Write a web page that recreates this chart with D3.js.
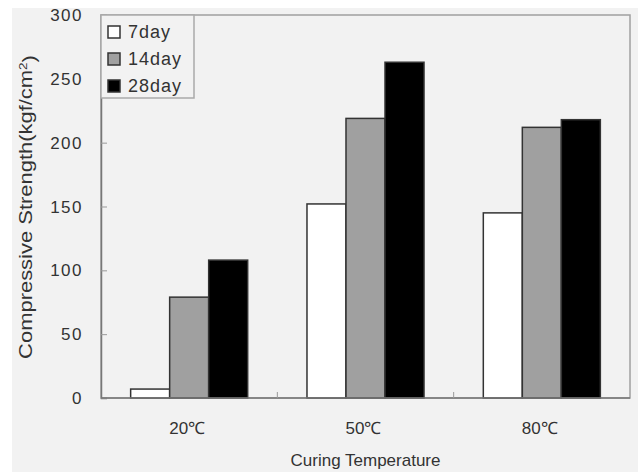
<!DOCTYPE html>
<html>
<head>
<meta charset="utf-8">
<script src="https://cdn.jsdelivr.net/npm/d3@7"></script>
<style>
  body { margin: 0; background: #fff; }
  text { font-family: "Liberation Sans", Arial, sans-serif; fill: #333; }
</style>
</head>
<body>
<div id="chart"></div>
<script>
var temps = ["20℃", "50℃", "80℃"];
var series = ["7day", "14day", "28day"];
var day7 = [7, 152, 145];
var day14 = [79, 219, 212];
var day28 = [108, 263, 218];
var yTicks = [0, 50, 100, 150, 200, 250, 300];

var fills = { "7day": "#ffffff", "14day": "#a0a0a0", "28day": "#000000" };
var values = { "7day": day7, "14day": day14, "28day": day28 };

var W = 638, H = 472;
var margin = { top: 15, right: 8, bottom: 74, left: 101 };

var svg = d3.select("#chart")
    .append("svg")
    .attr("width", W)
    .attr("height", H);

// gray page background
svg.append("rect")
    .attr("x", 12).attr("y", 8)
    .attr("width", W - 12).attr("height", H - 8)
    .attr("fill", "#f2f2f2");

var x0 = d3.scaleBand()
    .domain(temps)
    .range([margin.left, W - margin.right])
    .padding(0);

var x1 = d3.scaleBand()
    .domain(series)
    .range([0, x0.bandwidth()])
    .paddingInner(0)
    .paddingOuter(0.76);

var y = d3.scaleLinear()
    .domain([0, 300])
    .range([H - margin.bottom, margin.top]);

// frame
svg.append("rect")
    .attr("x", margin.left).attr("y", margin.top)
    .attr("width", W - margin.right - margin.left)
    .attr("height", y(0) - margin.top)
    .attr("fill", "none")
    .attr("stroke", "#a0a0a0")
    .attr("stroke-width", 1.5);

// bars
var rows = [];
temps.forEach(function (t, i) {
    series.forEach(function (s) {
        rows.push({ temp: t, s: s, v: values[s][i] });
    });
});

svg.selectAll(".bar")
    .data(rows)
    .enter()
    .append("rect")
    .attr("class", "bar")
    .attr("x", function (d) { return x0(d.temp) + x1(d.s); })
    .attr("y", function (d) { return y(d.v); })
    .attr("width", x1.bandwidth())
    .attr("height", function (d) { return y(0) - y(d.v); })
    .attr("fill", function (d) { return fills[d.s]; })
    .attr("stroke", "#333")
    .attr("stroke-width", 1.5);

// y axis (ticks inward)
var yAxis = svg.append("g")
    .attr("transform", "translate(" + margin.left + ",0)")
    .call(d3.axisRight(y).tickValues(yTicks).tickSize(6).tickFormat(""));
yAxis.select(".domain").attr("stroke", "#777").attr("stroke-width", 1.5);
yAxis.selectAll(".tick line").attr("stroke", "#999");

svg.selectAll(".ylab")
    .data(yTicks)
    .enter()
    .append("text")
    .attr("class", "ylab")
    .attr("x", 83)
    .attr("y", function (d) { return y(d); })
    .attr("dy", "0.36em")
    .attr("text-anchor", "end")
    .style("font-size", "17px")
    .style("letter-spacing", "1.5px")
    .text(function (d) { return d; });

// x axis, ticks between groups
var xAxis = svg.append("g")
    .attr("transform", "translate(0," + y(0) + ")");
xAxis.append("line")
    .attr("x1", margin.left).attr("x2", W - margin.right)
    .attr("stroke", "#777").attr("stroke-width", 1.5);
xAxis.selectAll(".sep")
    .data(temps.slice(1))
    .enter()
    .append("line")
    .attr("x1", function (d) { return x0(d); })
    .attr("x2", function (d) { return x0(d); })
    .attr("y1", 0).attr("y2", -6)
    .attr("stroke", "#999");

svg.selectAll(".xlab")
    .data(temps)
    .enter()
    .append("text")
    .attr("class", "xlab")
    .attr("x", function (d) { return x0(d) + x0.bandwidth() / 2 - 2; })
    .attr("y", 434)
    .attr("text-anchor", "middle")
    .style("font-size", "17px")
    .text(function (d) { return d; });

svg.append("text")
    .attr("x", x0.range()[0] + (x0.range()[1] - x0.range()[0]) / 2)
    .attr("y", 466)
    .attr("text-anchor", "middle")
    .style("font-size", "17px")
    .text("Curing Temperature");

var yt = svg.append("text")
    .attr("transform", "translate(32,207) rotate(-90) scale(1.22,1)")
    .attr("text-anchor", "middle")
    .style("font-size", "18px");
yt.append("tspan").text("Compressive Strength(kgf/cm");
yt.append("tspan").attr("dy", "-0.45em").style("font-size", "11px").text("2");
yt.append("tspan").attr("dy", "0.45em").text(")");

// legend
var lg = svg.append("g").attr("transform", "translate(" + margin.left + "," + margin.top + ")");
lg.append("rect")
    .attr("width", 93).attr("height", 83)
    .attr("fill", "#f2f2f2")
    .attr("stroke", "#aaa")
    .attr("stroke-width", 1.5);
var item = lg.selectAll(".item")
    .data(series)
    .enter()
    .append("g")
    .attr("transform", function (d, i) { return "translate(7," + (11 + i * 27) + ")"; });
item.append("rect")
    .attr("width", 12).attr("height", 12)
    .attr("fill", function (d) { return fills[d]; })
    .attr("stroke", "#333")
    .attr("stroke-width", 1.5);
item.append("text")
    .attr("x", 20).attr("y", 6)
    .attr("dy", "0.36em")
    .style("font-size", "18px")
    .style("letter-spacing", "1px")
    .text(function (d) { return d; });
</script>
</body>
</html>
